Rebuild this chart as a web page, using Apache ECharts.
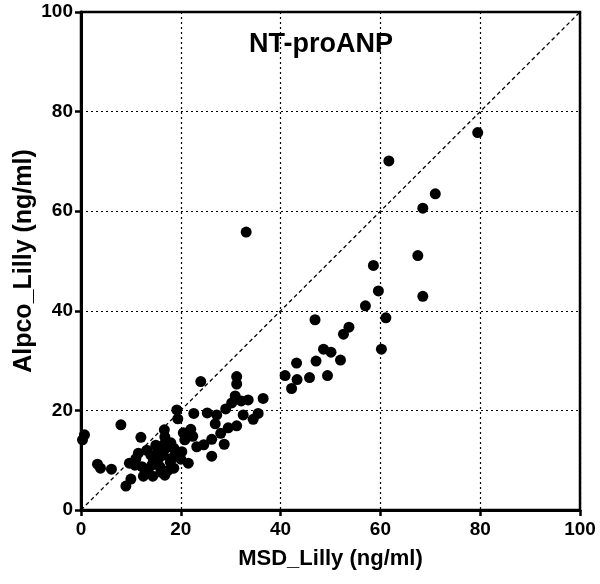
<!DOCTYPE html>
<html>
<head>
<meta charset="utf-8">
<script src="https://cdn.jsdelivr.net/npm/echarts@6/dist/echarts.min.js"></script>
<style>html,body{margin:0;padding:0;background:#fff}#c{width:600px;height:584px}</style>
</head>
<body>
<div id="c"></div>
<script>
var titleText = "NT-proANP";
var xTitle = "MSD_Lilly (ng/ml)";
var yTitle = "Alpco_Lilly (ng/ml)";
var axisMin = 0, axisMax = 100, axisStep = 20;

var msdValues = [
  0.3,0.7,3.3,3.9,6.1,8.0,9.0,10.0,9.7,10.8,11.5,12.0,12.2,12.5,13.2,13.5,14.2,14.4,14.5,15.5,
  15.5,15.8,16.0,16.7,16.8,16.8,16.8,17.1,17.9,18.2,18.6,18.6,19.2,19.4,11.0,13.0,14.0,16.5,17.5,19.5,
  20.0,18.0,15.0,20.2,20.5,20.8,21.5,22.0,22.4,22.6,23.2,24.0,24.6,25.3,26.2,26.2,26.9,27.2,28.0,28.7,
  29.0,29.5,30.2,30.9,31.2,31.2,31.2,32.1,32.5,33.5,34.5,35.5,36.5,33.1,40.9,43.2,43.3,42.2,45.8,47.1,
  46.9,48.6,49.4,50.1,52.0,52.6,53.7,57.0,58.6,59.6,60.2,61.1,61.7,67.5,68.5,68.5,71.0,79.5
];
var alpcoValues = [
  14.1,15.1,9.2,8.4,8.2,17.1,4.8,6.2,9.4,9.0,11.4,14.6,8.7,6.8,12.0,7.5,9.0,6.8,9.7,11.7,
  10.2,8.7,7.6,16.1,14.7,13.4,7.0,12.5,9.6,10.4,12.4,8.4,20.1,18.3,10.3,8.0,11.0,11.0,8.0,11.0,
  10.2,13.5,13.0,11.7,15.5,14.1,9.4,16.2,14.8,19.4,12.7,25.8,13.1,19.5,14.2,10.8,17.3,19.1,15.4,13.2,
  20.3,16.5,21.5,22.9,26.8,25.3,16.9,21.9,19.1,22.1,18.2,19.4,22.4,55.8,27.0,29.5,26.2,24.4,26.6,29.9,
  38.2,32.3,27.0,31.7,30.1,35.3,36.7,41.0,49.1,44.0,32.3,38.6,70.1,51.1,60.6,42.9,63.5,75.8
];
var identityLine = [[axisMin, axisMin], [axisMax, axisMax]];

var points = msdValues.map(function (v, i) { return [v, alpcoValues[i]]; });

var font = "'Liberation Sans', Arial, sans-serif";
var chart = echarts.init(document.getElementById('c'), null, {renderer: 'canvas'});

function axisCfg(name, isY) {
  return {
    type: 'value', min: axisMin, max: axisMax, interval: axisStep,
    name: name, nameLocation: 'middle',
    nameGap: isY ? 44 : 38,
    nameMoveOverlap: false,
    nameTextStyle: {fontFamily: font, fontWeight: 'bold', fontSize: isY ? 25 : 22, color: '#000'},
    axisLine: {show: true, lineStyle: {color: '#000', width: 3}},
    axisTick: {show: true, length: 6, lineStyle: {color: '#000', width: 2.5}},
    axisLabel: {fontFamily: font, fontWeight: 'bold', fontSize: 19, color: '#000', margin: isY ? 8 : 10},
    splitLine: {show: true, lineStyle: {color: '#000', width: 1.2, type: [2, 3]}}
  };
}

chart.setOption({
  animation: false,
  backgroundColor: '#fff',
  title: {
    text: titleText, left: 316, top: 26, textAlign: 'center',
    textStyle: {fontFamily: font, fontWeight: 'bold', fontSize: 27, color: '#000'}
  },
  grid: {left: 81, right: 20, top: 12, bottom: 74, show: true, borderColor: '#000', borderWidth: 2.5, containLabel: false},
  xAxis: axisCfg(xTitle, false),
  yAxis: axisCfg(yTitle, true),
  series: [
    {
      type: 'line', data: identityLine, symbol: 'none', silent: true,
      lineStyle: {color: '#000', width: 1.3, type: [4, 3]}, z: 1
    },
    {
      type: 'scatter', data: points, symbol: 'circle', symbolSize: 11,
      itemStyle: {color: '#000', opacity: 1}, z: 3
    }
  ]
});
</script>
</body>
</html>
